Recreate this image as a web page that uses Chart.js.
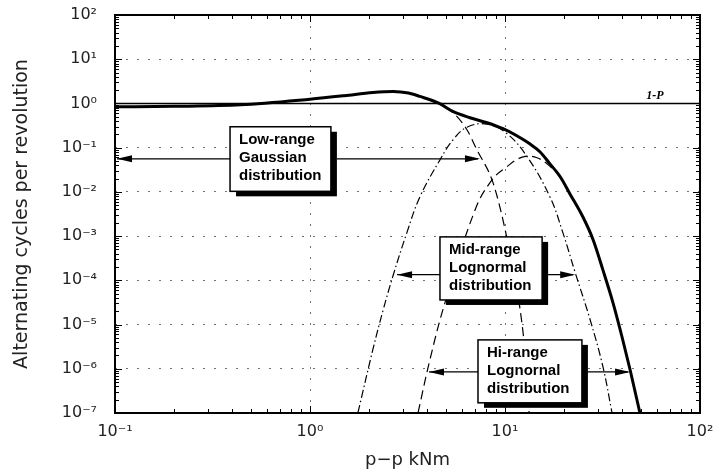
<!DOCTYPE html>
<html>
<head>
<meta charset="utf-8">
<script src="https://cdn.jsdelivr.net/npm/chart.js@4"></script>
<style>
  html, body { margin: 0; padding: 0; background: #fff; }
  #wrap { width: 728px; height: 469px; }
</style>
</head>
<body>
<div id="wrap"><canvas id="myChart" width="728" height="469"></canvas></div>
<script>
// Total alternating cycles (thick solid line)
let totalX = [0.1, 0.2, 0.44, 1.0, 1.5, 2.1, 2.67, 3.2, 3.66, 4.6, 5.4, 6.61, 8.09, 9.77, 11.5, 13.4, 15.1, 17.0, 19.2, 21.5, 25.1, 28.3, 31.8, 35.8, 39.8, 43.8, 49.2];
let totalY = [0.84, 0.86, 0.93, 1.25, 1.5, 1.77, 1.87, 1.72, 1.44, 1.0, 0.66, 0.475, 0.366, 0.268, 0.186, 0.122, 0.081, 0.043, 0.022, 0.0091, 0.0027, 8.3e-4, 1.7e-4, 3.1e-5, 5.3e-6, 9.5e-7, 1e-7];

// Low-range Gaussian (dashed)
let gaussX = [3.66, 4.6, 5.41, 6.38, 7.18, 8.58, 9.43, 10.2, 11.1, 11.9, 12.5, 13.0, 13.3];
let gaussY = [1.44, 0.98, 0.62, 0.254, 0.089, 0.0187, 0.0044, 9.6e-4, 1.55e-4, 2.5e-5, 4.5e-6, 7.3e-7, 1e-7];

// Mid-range lognormal (dash-dot)
let midX = [1.76, 2.1, 2.37, 2.67, 3.14, 3.66, 4.64, 5.41, 6.38, 8.09, 10.2, 13.0, 17.0, 19.8, 22.9, 27.3, 31.8, 35.4];
let midY = [1e-7, 2.7e-6, 2.1e-5, 1.3e-4, 1.2e-3, 7.7e-3, 0.053, 0.15, 0.29, 0.34, 0.21, 0.062, 0.0077, 1.2e-3, 1.5e-4, 1.3e-5, 1.1e-6, 1e-7];

// Hi-range lognormal (dashed)
let hiX = [3.58, 4.12, 4.92, 7.02, 8.58, 10.2, 12.4, 14.6, 17.0, 19.2, 21.5, 25.1, 28.3, 31.8, 35.8, 39.8, 43.8, 49.2];
let hiY = [1e-7, 1.6e-6, 3.1e-5, 3.9e-3, 0.0187, 0.037, 0.062, 0.059, 0.038, 0.021, 0.0088, 0.0027, 8.3e-4, 1.7e-4, 3.1e-5, 5.3e-6, 9.5e-7, 1e-7];

// 1-P reference line
let onePX = [0.1, 100];
let onePY = [1, 1];

// Tick values
let xTicks = [0.1, 1, 10, 100];
let yTicks = [1e-7, 1e-6, 1e-5, 1e-4, 1e-3, 1e-2, 1e-1, 1, 10, 100];

// Annotation boxes (data coordinates)
let boxLines = [
    ["Low-range", "Gaussian", "distribution"],
    ["Mid-range", "Lognormal", "distribution"],
    ["Hi-range", "Lognornal", "distribution"]
];
let boxLeft = [0.389, 4.64, 7.27];
let boxRight = [1.28, 15.5, 24.8];
let boxTop = [0.297, 9.6e-4, 4.5e-6];
let boxBottom = [0.0103, 3.6e-5, 1.7e-7];
let arrowY = [0.056, 1.34e-4, 8.5e-7];
let arrowFrom = [0.1, 2.73, 3.98];
let arrowTo = [7.44, 22.9, 43.8];

function pairs(xs, ys) {
    return xs.map(function(x, i) { return { x: x, y: ys[i] }; });
}

function sup(n) {
    let map = { '-': '\u207B', '0': '\u2070', '1': '\u00B9', '2': '\u00B2', '3': '\u00B3',
        '4': '\u2074', '5': '\u2075', '6': '\u2076', '7': '\u2077', '8': '\u2078', '9': '\u2079' };
    return String(n).split('').map(function(c) { return map[c]; }).join('');
}

function arrowHead(ctx, tipX, tipY, dir) {
    ctx.beginPath();
    ctx.moveTo(tipX, tipY);
    ctx.lineTo(tipX - dir * 15, tipY - 3.5);
    ctx.lineTo(tipX - dir * 15, tipY + 3.5);
    ctx.closePath();
    ctx.fill();
}

let decor = {
    id: 'decor',
    afterDatasetsDraw: function(chart) {
        let ctx = chart.ctx;
        let a = chart.chartArea;
        let x = chart.scales.x;
        let y = chart.scales.y;
        ctx.save();

        // 1-P label
        ctx.fillStyle = '#000';
        ctx.font = 'italic bold 12px "Liberation Serif"';
        ctx.textAlign = 'left';
        ctx.textBaseline = 'alphabetic';
        ctx.fillText('1-P', x.getPixelForValue(53), y.getPixelForValue(1) - 4);

        // boxes with arrows
        for (let i = 0; i < boxLines.length; i++) {
            let l = x.getPixelForValue(boxLeft[i]);
            let r = x.getPixelForValue(boxRight[i]);
            let t = y.getPixelForValue(boxTop[i]);
            let b = y.getPixelForValue(boxBottom[i]);
            let ay = y.getPixelForValue(arrowY[i]);
            let x1 = x.getPixelForValue(arrowFrom[i]);
            let x2 = x.getPixelForValue(arrowTo[i]);

            ctx.strokeStyle = '#000';
            ctx.fillStyle = '#000';
            ctx.lineWidth = 1.2;
            ctx.beginPath();
            ctx.moveTo(x1 + 2, ay);
            ctx.lineTo(l, ay);
            ctx.moveTo(r + 6, ay);
            ctx.lineTo(x2 - 2, ay);
            ctx.stroke();
            arrowHead(ctx, x1 + 2, ay, -1);
            arrowHead(ctx, x2, ay, 1);

            // shadow
            ctx.fillRect(l + 6, t + 5, r - l, b - t);
            ctx.fillStyle = '#fff';
            ctx.fillRect(l, t, r - l, b - t);
            ctx.lineWidth = 1.5;
            ctx.strokeRect(l, t, r - l, b - t);

            ctx.fillStyle = '#000';
            ctx.font = 'bold 15px "Liberation Sans"';
            ctx.textBaseline = 'middle';
            for (let j = 0; j < boxLines[i].length; j++) {
                ctx.fillText(boxLines[i][j], l + 9, t + 13 + j * 18);
            }
        }

        // frame
        ctx.strokeStyle = '#000';
        ctx.lineWidth = 2;
        ctx.strokeRect(a.left, a.top, a.right - a.left, a.bottom - a.top);

        // inward ticks on all four sides
        ctx.lineWidth = 1;
        ctx.beginPath();
        for (let k = -1; k < 2; k++) {
            for (let m = 1; m < 10; m++) {
                let v = m * Math.pow(10, k);
                let px = Math.round(x.getPixelForValue(v)) + 0.5;
                let len = m === 1 ? 7 : 4;
                ctx.moveTo(px, a.bottom);
                ctx.lineTo(px, a.bottom - len);
                ctx.moveTo(px, a.top);
                ctx.lineTo(px, a.top + len);
            }
        }
        for (let k = -7; k < 2; k++) {
            for (let m = 1; m < 10; m++) {
                let v = m * Math.pow(10, k);
                let py = Math.round(y.getPixelForValue(v)) + 0.5;
                let len = m === 1 ? 7 : 4;
                ctx.moveTo(a.left, py);
                ctx.lineTo(a.left + len, py);
                ctx.moveTo(a.right, py);
                ctx.lineTo(a.right - len, py);
            }
        }
        ctx.stroke();
        ctx.restore();
    }
};

let ctx = document.getElementById('myChart').getContext('2d');
let myChart = new Chart(ctx, {
    type: 'line',
    data: {
        datasets: [
            {
                label: 'Total',
                data: pairs(totalX, totalY),
                borderColor: '#000',
                borderWidth: 3,
                cubicInterpolationMode: 'monotone'
            },
            {
                label: '1-P',
                data: pairs(onePX, onePY),
                borderColor: '#000',
                borderWidth: 1.5
            },
            {
                label: 'Low-range Gaussian',
                data: pairs(gaussX, gaussY),
                borderColor: '#000',
                borderWidth: 1.2,
                borderDash: [9, 5],
                cubicInterpolationMode: 'monotone'
            },
            {
                label: 'Mid-range Lognormal',
                data: pairs(midX, midY),
                borderColor: '#000',
                borderWidth: 1.2,
                borderDash: [8, 3, 1.5, 3],
                tension: 0.4
            },
            {
                label: 'Hi-range Lognormal',
                data: pairs(hiX, hiY),
                borderColor: '#000',
                borderWidth: 1.2,
                borderDash: [9, 5],
                tension: 0.4
            }
        ]
    },
    options: {
        responsive: false,
        animation: false,
        devicePixelRatio: 1,
        layout: { padding: { top: 15, right: 28, left: 0, bottom: 0 } },
        elements: { point: { radius: 0 } },
        plugins: {
            legend: { display: false },
            tooltip: { enabled: false }
        },
        scales: {
            x: {
                type: 'logarithmic',
                min: 0.1,
                max: 100,
                afterBuildTicks: function(s) { s.ticks = xTicks.map(function(v) { return { value: v, major: true }; }); },
                afterFit: function(s) { s.height = 56; },
                ticks: {
                    autoSkip: false,
                    maxRotation: 0,
                    padding: 3,
                    color: '#222',
                    font: { family: 'DejaVu Sans', size: 16 },
                    callback: function(v) { return '10' + sup(Math.round(Math.log10(v))); }
                },
                grid: { color: 'rgba(0,0,0,0.55)', drawTicks: true, tickLength: 6, tickColor: 'rgba(0,0,0,0)', lineWidth: 1 },
                border: { display: false, dash: [2, 9] },
                title: {
                    display: true,
                    text: 'p\u2212p kNm',
                    color: '#222',
                    font: { family: 'DejaVu Sans', size: 18, lineHeight: 1 },
                    padding: { top: 0, bottom: 0 }
                }
            },
            y: {
                type: 'logarithmic',
                min: 1e-7,
                max: 100,
                afterBuildTicks: function(s) { s.ticks = yTicks.map(function(v) { return { value: v, major: true }; }); },
                afterFit: function(s) { s.width = 115; },
                ticks: {
                    autoSkip: false,
                    padding: 2,
                    color: '#222',
                    font: { family: 'DejaVu Sans', size: 16 },
                    callback: function(v) { return '10' + sup(Math.round(Math.log10(v))); }
                },
                grid: { color: 'rgba(0,0,0,0.55)', drawTicks: true, tickLength: 16, tickColor: 'rgba(0,0,0,0)', lineWidth: 1 },
                border: { display: false, dash: [2, 9] },
                title: {
                    display: true,
                    text: 'Alternating cycles per revolution',
                    color: '#222',
                    font: { family: 'DejaVu Sans', size: 19 },
                    padding: { top: 11, bottom: 0 }
                }
            }
        }
    },
    plugins: [decor]
});
</script>
</body>
</html>
